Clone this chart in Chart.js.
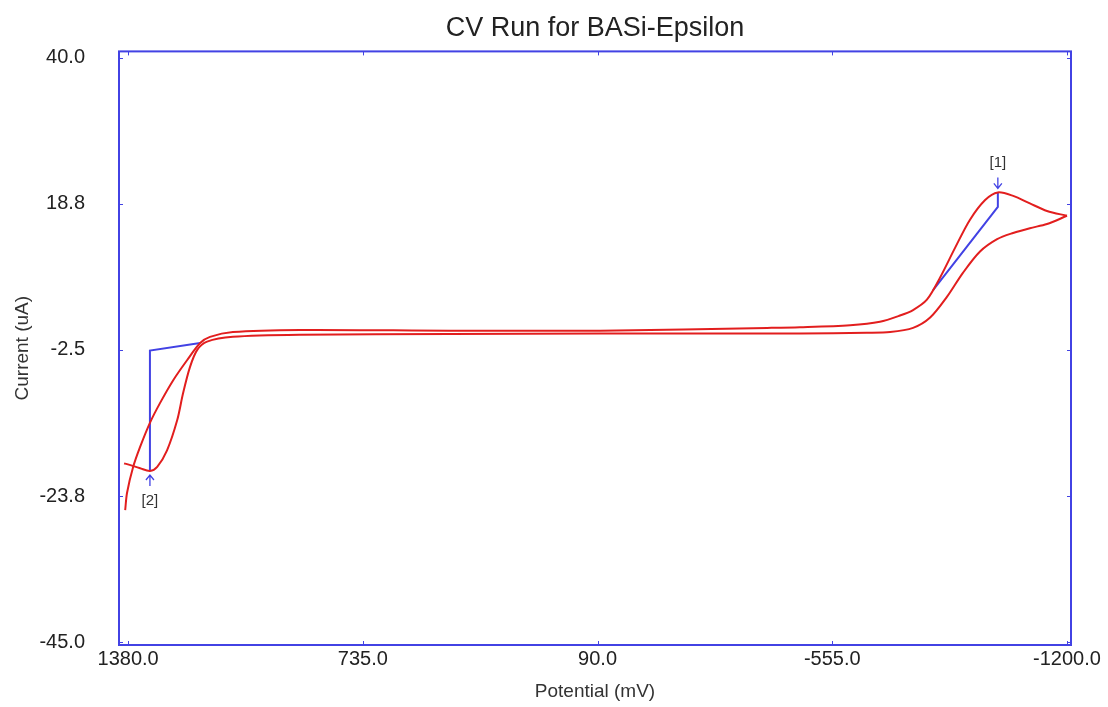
<!DOCTYPE html>
<html>
<head>
<meta charset="utf-8">
<title>CV Run for BASi-Epsilon</title>
<script src="https://cdn.jsdelivr.net/npm/chart.js@4.4.1/dist/chart.umd.min.js"></script>
<style>
  html, body { margin: 0; padding: 0; background: #fff; }
  #cv { display: block; }
</style>
</head>
<body>
<canvas id="cv" width="1108" height="707"></canvas>
<script>
// forward sweep, 1380 mV out to -1200 mV
const fwdPotential = [1388, 1383, 1366, 1347, 1320, 1292, 1256, 1218, 1182, 1155,
    1092, 907, 495, 83, -376, -466, -604, -686, -741, -777,
    -815, -851, -892, -933, -975, -1010, -1052, -1098, -1145, -1200];
const fwdCurrent = [-25.8, -23.3, -19.5, -16.6, -13.1, -10.2, -6.9, -4.0, -1.5, -0.6,
    0.1, 0.4, 0.3, 0.3, 0.7, 0.8, 1.1, 1.6, 2.5, 3.3,
    4.8, 8.0, 12.3, 16.4, 19.3, 20.4, 19.9, 18.8, 17.7, 17.0];

// return sweep back to 1380 mV
const revPotential = [-1200, -1145, -1098, -1052, -1008, -961, -914, -870, -824, -777,
    -714, -650, -466, 83, 495, 907, 1092, 1163, 1190, 1210,
    1229, 1245, 1273, 1300, 1320, 1347, 1383, 1391];
const revCurrent = [17.0, 15.8, 15.2, 14.5, 13.6, 11.8, 8.7, 5.2, 2.2, 0.7,
    0.1, 0.0, -0.1, -0.1, -0.2, -0.3, -0.6, -1.3, -2.5, -5.0,
    -8.8, -12.7, -17.1, -19.5, -20.1, -19.7, -19.1, -19.0];

// peak baselines (baseline segment + drop to the peak)
const base1Potential = [-832, -1010, -1010];
const base1Current = [6.2, 18.3, 20.4];
const base2Potential = [1182, 1320, 1320];
const base2Current = [-1.5, -2.6, -20.1];

const peakLabels = ['[1]', '[2]'];
const peakPotential = [-1010, 1320];
const peakCurrent = [20.4, -20.1];

const xTicks = [1380, 735, 90, -555, -1200];
const yTicks = [40, 18.75, -2.5, -23.75, -45];

const RED = 'rgb(226,30,30)';
const BLUE = 'rgb(66,66,228)';
const FONT = 'Liberation Sans';

const pts = (xs, ys) => xs.map((x, i) => ({x: x, y: ys[i]}));

// box round the plot, small inward ticks, peak arrows
const frame = {
    id: 'frame',
    afterDatasetsDraw(chart) {
        const {ctx, chartArea: a, scales: {x, y}} = chart;
        ctx.save();
        ctx.strokeStyle = BLUE;
        ctx.lineWidth = 2;
        ctx.strokeRect(a.left, a.top, a.right - a.left, a.bottom - a.top);

        ctx.lineWidth = 1;
        ctx.beginPath();
        xTicks.forEach(v => {
            const px = Math.round(x.getPixelForValue(v)) + 0.5;
            ctx.moveTo(px, a.bottom); ctx.lineTo(px, a.bottom - 4);
            ctx.moveTo(px, a.top); ctx.lineTo(px, a.top + 4);
        });
        yTicks.forEach(v => {
            const py = Math.round(y.getPixelForValue(v)) + 0.5;
            ctx.moveTo(a.left, py); ctx.lineTo(a.left + 4, py);
            ctx.moveTo(a.right, py); ctx.lineTo(a.right - 4, py);
        });
        ctx.stroke();

        ctx.font = '15px "' + FONT + '"';
        ctx.textAlign = 'center';
        ctx.fillStyle = '#333';
        peakLabels.forEach((lab, i) => {
            const px = x.getPixelForValue(peakPotential[i]);
            const py = y.getPixelForValue(peakCurrent[i]);
            const d = peakCurrent[i] > 0 ? -1 : 1;
            const tip = py + d * 4, tail = py + d * 15;
            ctx.strokeStyle = BLUE;
            ctx.lineWidth = 1.3;
            ctx.beginPath();
            ctx.moveTo(px, tail); ctx.lineTo(px, tip);
            ctx.moveTo(px - 4, tip + d * 5); ctx.lineTo(px, tip); ctx.lineTo(px + 4, tip + d * 5);
            ctx.stroke();
            ctx.textBaseline = d < 0 ? 'bottom' : 'top';
            ctx.fillText(lab, px, tail + d * 7);
        });
        ctx.restore();
    }
};

const config = {
    type: 'scatter',
    data: {
        datasets: [
            {data: pts(fwdPotential, fwdCurrent), showLine: true, borderColor: RED, borderWidth: 2, pointRadius: 0, tension: 0.3},
            {data: pts(revPotential, revCurrent), showLine: true, borderColor: RED, borderWidth: 2, pointRadius: 0, tension: 0.3},
            {data: pts(base1Potential, base1Current), showLine: true, borderColor: BLUE, borderWidth: 2, pointRadius: 0, tension: 0},
            {data: pts(base2Potential, base2Current), showLine: true, borderColor: BLUE, borderWidth: 2, pointRadius: 0, tension: 0}
        ]
    },
    options: {
        responsive: false,
        animation: false,
        events: [],
        layout: {padding: {left: 0, right: 37, top: 0, bottom: 0}},
        plugins: {
            legend: {display: false},
            tooltip: {enabled: false},
            title: {
                display: true,
                fullSize: false,
                text: 'CV Run for BASi-Epsilon',
                color: '#222',
                font: {family: FONT, size: 27, weight: 'normal'},
                padding: {top: 12, bottom: 7}
            }
        },
        scales: {
            x: {
                type: 'linear',
                reverse: true,
                min: -1211,
                max: 1405,
                grid: {display: false, drawTicks: false},
                border: {display: false},
                afterBuildTicks: s => { s.ticks = xTicks.map(v => ({value: v})); },
                afterFit: s => { s.height = 62; s.paddingLeft = 0; s.paddingRight = 0; },
                ticks: {
                    color: '#222',
                    padding: 2,
                    maxRotation: 0,
                    font: {family: FONT, size: 20},
                    callback: v => v.toFixed(1)
                },
                title: {
                    display: true,
                    text: 'Potential (mV)',
                    color: '#333',
                    font: {family: FONT, size: 19},
                    padding: {top: 0, bottom: 4}
                }
            },
            y: {
                min: -45.4,
                max: 40.9,
                grid: {display: false, drawTicks: false},
                border: {display: false},
                afterBuildTicks: s => { s.ticks = yTicks.map(v => ({value: v})); },
                afterFit: s => { s.width = 119; s.paddingTop = 0; s.paddingBottom = 0; },
                ticks: {
                    color: '#222',
                    padding: 34,
                    font: {family: FONT, size: 20},
                    callback: v => v.toFixed(1)
                },
                title: {
                    display: true,
                    text: 'Current (uA)',
                    color: '#333',
                    font: {family: FONT, size: 19},
                    padding: {top: 11, bottom: 0}
                }
            }
        }
    },
    plugins: [frame]
};

const cvChart = new Chart(document.getElementById('cv'), config);
</script>
</body>
</html>
